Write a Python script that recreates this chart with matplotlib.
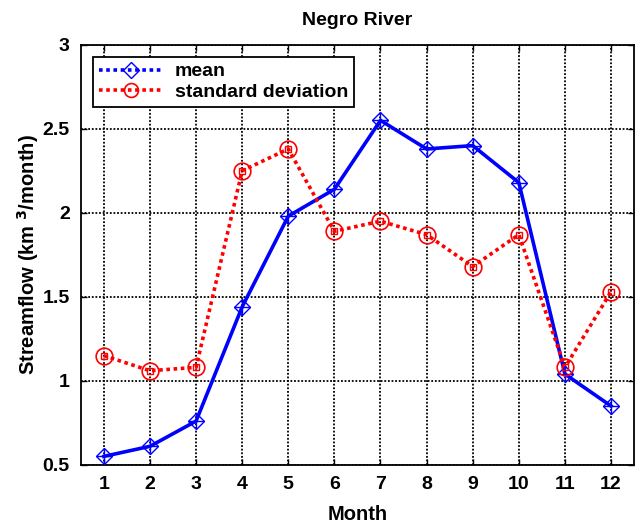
import matplotlib.pyplot as plt
from matplotlib.lines import Line2D

plt.rcParams['font.family'] = ['Liberation Sans', 'DejaVu Sans']
plt.rcParams['font.weight'] = 'bold'
plt.rcParams['mathtext.default'] = 'bf'

months = [1, 2, 3, 4, 5, 6, 7, 8, 9, 10, 11, 12]
mean_flow = [0.55, 0.61, 0.76, 1.44, 1.98, 2.14, 2.55, 2.38, 2.40, 2.18, 1.04, 0.85]
std_flow = [1.15, 1.06, 1.08, 2.25, 2.38, 1.89, 1.95, 1.87, 1.68, 1.87, 1.08, 1.53]
y_ticks = [0.5, 1, 1.5, 2, 2.5, 3]
y_tick_labels = ['0.5', '1', '1.5', '2', '2.5', '3']

fig = plt.figure(figsize=(6.36, 5.27), dpi=100)
ax = fig.add_axes([0.127, 0.118, 0.870, 0.797])

# mean: solid blue line with diamond/cross markers
ax.plot(months, mean_flow, color='blue', lw=2.6, zorder=3)
ax.plot(months, mean_flow, ls='none', marker='D', ms=8, mfc='none',
        mec='blue', mew=1.0, zorder=4)
ax.plot(months, mean_flow, ls='none', marker='+', ms=11, mec='blue',
        mew=1.0, zorder=4)

# standard deviation: dotted red line with circle markers
ax.plot(months, std_flow, color='red', lw=2.6, ls=(0, (1, 1)), zorder=3)
ax.plot(months, std_flow, ls='none', marker='o', ms=12, mfc='none',
        mec='red', mew=1.2, zorder=4)
ax.plot(months, std_flow, ls='none', marker='s', ms=4, mfc='none',
        mec='red', mew=1.0, zorder=4)

ax.set_xlim(0.5, 12.5)
ax.set_ylim(0.5, 3)
ax.set_xticks(months)
ax.set_xticklabels([str(m) for m in months])
ax.set_yticks(y_ticks)
ax.set_yticklabels(y_tick_labels)
ax.tick_params(direction='in', length=4, width=1, labelsize=14,
               top=True, right=True, pad=8)
for lab in ax.get_xticklabels() + ax.get_yticklabels():
    lab.set_fontweight('bold')

ax.grid(True, color='black', ls=(0, (1, 1)), lw=1.3)
for sp in ax.spines.values():
    sp.set_linewidth(1.3)
    sp.set_color('black')

ax.set_title('Negro River', fontsize=14, fontweight='bold', pad=14)
ax.set_xlabel('Month', fontsize=14.5, fontweight='bold', labelpad=9)
ax.set_ylabel('Streamflow (km $^3$/month)', fontsize=14.5,
              fontweight='bold', labelpad=1)

handles = [
    Line2D([], [], color='blue', lw=2.6, ls=(0, (1, 1)), marker='D', ms=8,
           mfc='none', mec='blue', mew=1.0),
    Line2D([], [], color='red', lw=2.6, ls=(0, (1, 1)), marker='o', ms=10,
           mfc='none', mec='red', mew=1.2),
]
leg = ax.legend(handles, ['mean', 'standard deviation'], loc='upper left',
                bbox_to_anchor=(0.012, 0.985), fontsize=14, handlelength=3.3,
                handletextpad=0.6, borderpad=0.3, labelspacing=0.15,
                borderaxespad=0.3, fancybox=False, framealpha=1,
                edgecolor='black')
leg.get_frame().set_linewidth(1.3)
for t in leg.get_texts():
    t.set_fontweight('bold')

fig.savefig('out.png', dpi=100)
